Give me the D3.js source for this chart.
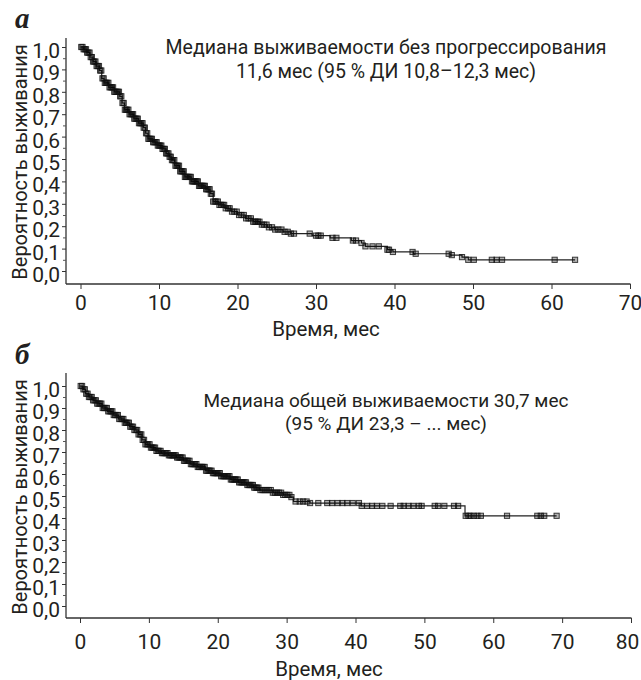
<!DOCTYPE html>
<html><head><meta charset="utf-8">
<script src="https://cdn.jsdelivr.net/npm/d3@7"></script>
<style>body{margin:0;background:#fff}svg{display:block}</style>
</head><body>
<svg id="c" width="641" height="680"></svg>
<script>
// ---- data ----
const pfsSteps = [[0,1.0],[0.4,0.99],[0.8,0.975],[1.2,0.955],[1.6,0.935],[2.0,0.915],[2.4,0.895],[2.7,0.86],[3.0,0.84],[3.6,0.82],[4.3,0.80],[5.0,0.78],[5.3,0.75],[5.6,0.72],[6.2,0.70],[6.8,0.68],[7.4,0.66],[8.0,0.64],[8.3,0.615],[8.6,0.59],[9.2,0.575],[9.8,0.56],[10.4,0.545],[10.9,0.525],[11.3,0.51],[11.6,0.495],[12.0,0.47],[12.6,0.445],[13.3,0.42],[14.1,0.40],[15.0,0.38],[15.9,0.365],[16.5,0.345],[16.9,0.31],[17.6,0.295],[18.4,0.28],[19.2,0.265],[20.0,0.25],[21.0,0.235],[22.0,0.22],[22.9,0.207],[23.8,0.195],[24.8,0.185],[25.8,0.175],[26.8,0.167],[29.5,0.158],[31.8,0.148],[34.5,0.136],[35.8,0.125],[36.3,0.11],[39.1,0.095],[39.8,0.085],[42.4,0.077],[47.1,0.071],[48.6,0.062],[49.4,0.05],[63.0,0.05]];
const pfsCensor = [0.1,0.25,0.4,0.55,0.7,0.85,1.0,1.15,1.3,1.45,1.6,1.75,1.9,2.05,2.2,2.35,2.5,2.65,2.8,2.95,3.1,3.25,3.4,3.55,3.7,3.85,4.0,4.15,4.3,4.45,4.6,4.75,4.9,5.05,5.2,5.35,5.5,5.65,5.8,5.95,6.1,6.25,6.4,6.55,6.7,6.85,7.0,7.15,7.3,7.45,7.6,7.75,7.9,8.05,8.2,8.35,8.5,8.65,8.8,8.95,9.1,9.25,9.4,9.55,9.7,9.85,10.0,10.15,10.3,10.45,10.6,10.75,10.9,11.05,11.2,11.35,11.5,11.65,11.8,11.95,12.1,12.25,12.4,12.55,12.7,12.85,13.0,13.15,13.3,13.45,13.6,13.75,13.9,14.05,14.2,14.35,14.5,14.65,14.8,14.95,15.1,15.25,15.4,15.55,15.7,15.85,16.0,16.15,16.3,16.45,16.6,16.75,16.9,17.1,17.3,17.5,17.7,17.9,18.1,18.3,18.5,18.8,19.0,19.3,19.6,19.9,20.2,20.5,20.8,21.1,21.4,21.7,22.0,22.2,22.4,22.6,22.8,23.1,23.4,23.7,24.0,24.4,24.8,25.2,25.6,26.0,26.4,26.8,27.2,29.2,30.0,30.3,30.6,32.1,32.6,34.7,35.1,35.8,36.3,37.2,38.0,39.1,39.3,39.8,42.3,42.7,46.9,47.3,48.6,49.4,50.1,52.4,53.0,53.7,60.4,63.0];
const osSteps = [[0,1.0],[0.4,0.985],[0.8,0.965],[1.3,0.95],[1.9,0.935],[2.5,0.92],[3.2,0.90],[4.0,0.885],[4.8,0.868],[5.6,0.85],[6.4,0.833],[7.2,0.815],[7.9,0.80],[8.5,0.78],[9.0,0.755],[9.5,0.735],[10.2,0.72],[11.0,0.705],[11.8,0.695],[12.8,0.685],[14.0,0.675],[15.0,0.66],[16.0,0.645],[17.0,0.632],[18.2,0.615],[19.3,0.604],[20.5,0.59],[21.8,0.575],[23.0,0.562],[24.2,0.55],[25.2,0.538],[26.1,0.527],[28.0,0.515],[29.5,0.505],[30.5,0.495],[31.0,0.475],[33.4,0.468],[40.8,0.455],[55.9,0.41],[69.2,0.41]];
const osCensor = [0.1,0.3,0.5,0.7,0.9,1.1,1.3,1.5,1.7,1.9,2.1,2.3,2.5,2.7,2.9,3.1,3.3,3.5,3.7,3.9,4.1,4.3,4.5,4.7,4.9,5.1,5.3,5.5,5.7,5.9,6.1,6.3,6.5,6.7,6.9,7.1,7.3,7.5,7.7,7.9,8.1,8.3,8.5,8.7,8.9,9.1,9.3,9.5,9.7,9.9,10.1,10.3,10.5,10.7,10.9,11.1,11.3,11.5,11.7,11.9,12.1,12.3,12.5,12.7,12.9,13.1,13.3,13.5,13.7,13.9,14.1,14.3,14.5,14.7,14.9,15.1,15.3,15.5,15.7,15.9,16.1,16.3,16.5,16.7,16.9,17.1,17.3,17.5,17.7,17.9,18.1,18.3,18.5,18.7,18.9,19.1,19.3,19.5,19.7,19.9,20.1,20.3,20.5,20.7,20.9,21.1,21.3,21.5,21.7,21.9,22.1,22.3,22.5,22.7,22.9,23.1,23.3,23.5,23.7,23.9,24.1,24.3,24.5,24.7,24.9,25.1,25.3,25.5,25.7,25.9,26.2,26.5,26.8,27.1,27.4,27.7,28.0,28.3,28.6,28.9,29.2,29.5,29.8,30.1,30.4,30.7,31.3,31.9,32.4,32.9,33.4,34.6,35.9,36.6,37.4,38.1,38.8,39.6,40.5,40.9,41.7,42.4,43.1,43.9,45.1,46.5,47.0,47.7,48.4,49.2,49.6,51.5,52.0,52.9,54.3,54.9,56.0,56.4,56.7,57.2,57.7,58.2,62.0,66.4,66.9,67.4,69.2];
const xTicksA = [0,10,20,30,40,50,60,70];
const xTicksB = [0,10,20,30,40,50,60,70,80];
const yTicks = [0,0.1,0.2,0.3,0.4,0.5,0.6,0.7,0.8,0.9,1.0];
const yMinor = [0.05,0.15,0.25,0.35,0.45,0.55,0.65,0.75,0.85,0.95];
const panelLetters = ["а","б"];
const xTitle = "Время, мес";
const yTitle = "Вероятность выживания";
const notesA = ["Медиана выживаемости без прогрессирования","11,6 мес (95 % ДИ 10,8–12,3 мес)"];
const notesB = ["Медиана общей выживаемости 30,7 мес","(95 % ДИ 23,3 – ... мес)"];

// ---- drawing ----
const svg = d3.select("#c");
const FONT = "Roboto, 'Noto Sans', sans-serif";
const INK = "#231f20";
const fmt = v => d3.format(".1f")(v).replace(".", ",");

function panel(o) {
  const g = svg.append("g");
  const x = d3.scaleLinear().domain(o.xDomain).range(o.xRange);
  const y = d3.scaleLinear().domain([0,1]).range(o.yRange);

  g.append("line").attr("x1", o.axX).attr("x2", o.axX).attr("y1", o.axTop).attr("y2", o.axY)
    .attr("stroke", "#333").attr("stroke-width", 1.3);
  g.append("line").attr("x1", o.axX).attr("x2", o.xRange[1] + 0.5).attr("y1", o.axY).attr("y2", o.axY)
    .attr("stroke", "#333").attr("stroke-width", 1.3);

  const ya = g.append("g").attr("transform", `translate(${o.axX},0)`)
    .call(d3.axisLeft(y).tickValues(yTicks).tickSize(4).tickPadding(2).tickFormat(fmt));
  ya.select(".domain").remove();
  ya.selectAll(".tick line").attr("stroke", "#333");
  ya.selectAll(".tick text").attr("font-family", FONT).attr("font-size", 21).attr("fill", INK).attr("dy", "0.5em");
  const ym = g.append("g").attr("transform", `translate(${o.axX},0)`)
    .call(d3.axisLeft(y).tickValues(yMinor).tickSize(3).tickFormat(""));
  ym.select(".domain").remove();
  ym.selectAll(".tick line").attr("stroke", "#555");

  const xa = g.append("g").attr("transform", `translate(0,${o.axY})`)
    .call(d3.axisBottom(x).tickValues(o.xTicks).tickSize(5).tickPadding(o.xPad).tickFormat(d3.format("d")));
  xa.select(".domain").remove();
  xa.selectAll(".tick line").attr("stroke", "#333");
  xa.selectAll(".tick text").attr("font-family", FONT).attr("font-size", 21).attr("fill", INK)
    .attr("dx", (d, i, n) => i === n.length - 1 && o.lastShift ? o.lastShift : 0);

  g.append("text").attr("x", o.xTitleX).attr("y", o.xTitleY).attr("text-anchor", "middle")
    .attr("font-family", FONT).attr("font-size", 20.5).attr("fill", INK).text(xTitle);
  g.append("text").attr("transform", `translate(${o.yTitleX},${o.yTitleY}) rotate(-90)`).attr("text-anchor", "middle")
    .attr("font-family", FONT).attr("font-size", 20).attr("fill", INK).text(yTitle);
  g.append("text").attr("x", 15).attr("y", o.letterY).attr("font-family", "'Liberation Serif', serif")
    .attr("font-weight", "bold").attr("font-style", "italic").attr("font-size", 29).attr("fill", INK).text(o.letter);

  o.notes.forEach((t, i) => {
    g.append("text").attr("x", o.noteX).attr("y", o.noteY + i * o.noteDy).attr("text-anchor", "middle")
      .attr("font-family", FONT).attr("font-size", o.noteSize).attr("fill", INK).text(t);
  });

  const line = d3.line().x(d => x(d[0])).y(d => y(d[1])).curve(d3.curveStepAfter);
  g.append("path").datum(o.steps).attr("d", line).attr("fill", "none").attr("stroke", "#222").attr("stroke-width", 1.2);
  const surv = t => { let s = o.steps[0][1]; for (const d of o.steps) { if (d[0] <= t) s = d[1]; else break; } return s; };
  g.selectAll("rect.c").data(o.censor).enter().append("rect")
    .attr("x", d => x(d) - 2.6).attr("y", d => y(surv(d)) - 2.6).attr("width", 5.2).attr("height", 5.2)
    .attr("fill", "#000").attr("fill-opacity", 0.3).attr("stroke", "#111").attr("stroke-opacity", 0.8).attr("stroke-width", 1);
}

panel({xDomain:[0,70], xRange:[80.5,630], yRange:[271,47], axX:66, axTop:38, axY:284, xTicks:xTicksA, xPad:6.5, lastShift:0,
  xTitleX:326, xTitleY:336, yTitleX:27, yTitleY:162, letter:panelLetters[0], letterY:28,
  notes:notesA, noteX:386, noteY:54, noteDy:24, noteSize:19.5, steps:pfsSteps, censor:pfsCensor});
panel({xDomain:[0,80], xRange:[80,631], yRange:[606,386], axX:66, axTop:373, axY:618, xTicks:xTicksB, xPad:11, lastShift:-4,
  xTitleX:329, xTitleY:676, yTitleX:27, yTitleY:497, letter:panelLetters[1], letterY:364,
  notes:notesB, noteX:386, noteY:407, noteDy:23, noteSize:19, steps:osSteps, censor:osCensor});
</script>
</body></html>
